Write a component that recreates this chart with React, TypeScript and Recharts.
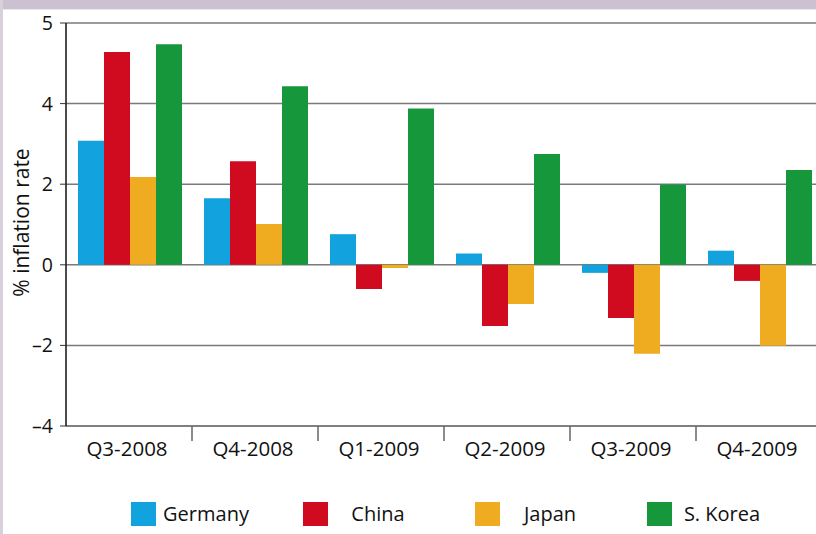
import React from 'react';
import { BarChart, Bar, XAxis, YAxis, CartesianGrid, Label } from 'recharts';

const categories = ['Q3-2008', 'Q4-2008', 'Q1-2009', 'Q2-2009', 'Q3-2009', 'Q4-2009'];
const germany = [3.08, 1.65, 0.76, 0.28, -0.2, 0.35];
const china = [5.28, 2.57, -0.6, -1.52, -1.32, -0.4];
const japan = [2.18, 1.01, -0.08, -0.97, -2.21, -2.01];
const korea = [5.47, 4.43, 3.88, 2.75, 1.99, 2.35];

const seriesNames = ['Germany', 'China', 'Japan', 'S. Korea'];
const seriesKeys = ['germany', 'china', 'japan', 'korea'];
const seriesColors = ['#12a2de', '#d00a1f', '#f0ac21', '#16973b'];

const yTickValues = [-4, -2, 0, 2, 4, 6];
const yTickLabels = ['–4', '–2', '0', '2', '4', '5'];

const yAxisTitle = '% inflation rate';

const data = categories.map((c, i) => ({
  name: c,
  germany: germany[i],
  china: china[i],
  japan: japan[i],
  korea: korea[i],
}));

const FONT = '"Open Sans", "Noto Sans", sans-serif';
const CHART_W = 822;
const CHART_H = 490;
const Y_W = 66;

const XTick = (props: any) => {
  const { x, y, payload, index } = props;
  const step = (CHART_W - Y_W) / categories.length;
  return (
    <g>
      <text x={x - 2} y={y + 30} textAnchor="middle" fill="#111" fontSize={20.5} fontFamily={FONT}>
        {payload.value}
      </text>
      {index < categories.length - 1 ? (
        <line x1={x + step / 2} y1={y} x2={x + step / 2} y2={y + 15} stroke="#666" strokeWidth={1.5} />
      ) : null}
    </g>
  );
};

export default function App() {
  return (
    <div
      style={{
        position: 'fixed',
        top: 0,
        left: 0,
        width: 816,
        height: 534,
        overflow: 'hidden',
        background: '#ffffff',
        fontFamily: FONT,
      }}
    >
      <div style={{ position: 'absolute', top: 0, left: 0 }}>
        <BarChart
          width={CHART_W}
          height={CHART_H}
          data={data}
          margin={{ top: 23, right: 0, left: 0, bottom: 30 }}
          barCategoryGap={12}
          barGap={0}
        >
          <CartesianGrid vertical={false} stroke="#7a7a7a" strokeWidth={1.5} />
          <XAxis
            dataKey="name"
            height={34}
            axisLine={{ stroke: '#777', strokeWidth: 1.5 }}
            tickLine={false}
            tickSize={0}
            tickMargin={0}
            interval={0}
            tick={<XTick />}
          />
          <YAxis
            width={Y_W}
            domain={[-4, 6]}
            ticks={yTickValues}
            interval={0}
            tickFormatter={(v: number) => yTickLabels[yTickValues.indexOf(v)]}
            axisLine={{ stroke: '#111', strokeWidth: 1.5 }}
            tickLine={{ stroke: '#333' }}
            tickSize={6}
            tickMargin={7}
            tick={{ fill: '#111', fontSize: 19.5, fontFamily: FONT }}
          >
            <Label
              content={(p: any) => {
                const vb = p.viewBox || {};
                const cy = (vb.y || 0) + (vb.height || 0) / 2 - 2;
                return (
                  <text
                    x={0}
                    y={0}
                    transform={`translate(29, ${cy}) rotate(-90)`}
                    textAnchor="middle"
                    fill="#111"
                    fontSize={21}
                    fontFamily={FONT}
                  >
                    {yAxisTitle}
                  </text>
                );
              }}
            />
          </YAxis>
          {seriesKeys.map((k, i) => (
            <Bar key={k} dataKey={k} name={seriesNames[i]} fill={seriesColors[i]} isAnimationActive={false} />
          ))}
        </BarChart>
      </div>
      <div style={{ position: 'absolute', top: 0, left: 0, width: 816, height: 9, background: '#cbc1d0' }} />
      <div style={{ position: 'absolute', top: 9, left: 0, width: 816, height: 1, background: '#e9e5ec' }} />
      <div style={{ position: 'absolute', top: 0, left: 0, width: 3, height: 534, background: '#d8d0dd' }} />
      <div style={{ position: 'absolute', top: 502, left: 131, display: 'flex' }}>
        {seriesNames.map((n, i) => (
          <div key={n} style={{ position: 'relative', width: 172, height: 24 }}>
            <div style={{ position: 'absolute', left: 0, top: 0, width: 25, height: 24, background: seriesColors[i] }} />
            <div
              style={{
                position: 'absolute',
                left: 25,
                width: 100,
                top: -2,
                textAlign: 'center',
                fontSize: 20,
                lineHeight: '28px',
                color: '#111',
                whiteSpace: 'nowrap',
              }}
            >
              {n}
            </div>
          </div>
        ))}
      </div>
    </div>
  );
}
